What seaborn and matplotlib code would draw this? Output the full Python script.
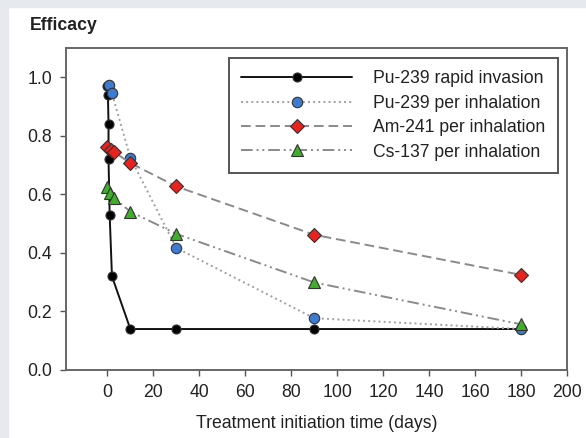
import matplotlib
matplotlib.use("Agg")
import matplotlib.pyplot as plt
import seaborn as sns
import pandas as pd
from matplotlib.patches import Rectangle

sns.set_style("ticks")
plt.rcParams['font.family'] = ['Liberation Sans', 'DejaVu Sans']

# data
pu_rapid_days = [0, 0.25, 0.5, 0.5, 1, 2, 10, 30, 90, 180]
pu_rapid_eff = [0.97, 0.94, 0.84, 0.72, 0.53, 0.32, 0.14, 0.14, 0.14, 0.14]
pu_inh_days = [0.5, 2, 10, 30, 90, 180]
pu_inh_eff = [0.975, 0.945, 0.725, 0.417, 0.177, 0.14]
am_inh_days = [0, 1.5, 3, 10, 30, 90, 180]
am_inh_eff = [0.762, 0.752, 0.744, 0.707, 0.627, 0.462, 0.325]
cs_inh_days = [0, 1, 3, 10, 30, 90, 180]
cs_inh_eff = [0.625, 0.604, 0.587, 0.541, 0.465, 0.299, 0.156]
labels = ["Pu-239 rapid invasion", "Pu-239 per inhalation",
          "Am-241 per inhalation", "Cs-137 per inhalation"]
x_ticks = [0, 20, 40, 60, 80, 100, 120, 140, 160, 180, 200]
y_ticks = [0.0, 0.2, 0.4, 0.6, 0.8, 1.0]

FS = 12.7

fig = plt.figure(figsize=(5.86, 4.38), dpi=100)
fig.patch.set_facecolor("white")
grey = "#e6eaee"
fig.patches.append(Rectangle((0, 0), 8 / 586, 1, transform=fig.transFigure, color=grey, zorder=0))
fig.patches.append(Rectangle((0, 1 - 7 / 438), 1, 7 / 438, transform=fig.transFigure, color=grey, zorder=0))

ax = fig.add_axes([66 / 586, (438 - 370) / 438, (567 - 66) / 586, (370 - 48) / 438])

series = [
    (pu_rapid_days, pu_rapid_eff, "#111111", "-", "o", "black", 6.5),
    (pu_inh_days, pu_inh_eff, "#a0a0a0", ":", "o", "#3d7bd0", 7.5),
    (am_inh_days, am_inh_eff, "#8a8a8a", (0, (5, 2.5)), "D", "#e8231f", 7.5),
    (cs_inh_days, cs_inh_eff, "#8a8a8a", (0, (6, 2, 1, 2, 1, 2)), "^", "#3fae2a", 8.5),
]
for (dx, dy, lc, ls, mk, mfc, ms), lab in zip(series, labels):
    df = pd.DataFrame({"days": dx, "eff": dy})
    sns.lineplot(data=df, x="days", y="eff", ax=ax, estimator=None, sort=False,
                 color=lc, linestyle=ls, linewidth=1.4, marker=mk, markersize=ms,
                 markerfacecolor=mfc, markeredgecolor="#333333", markeredgewidth=0.8,
                 label=lab)

ax.set_xlim(-18, 200)
ax.set_ylim(0, 1.1)
ax.set_xticks(x_ticks)
ax.set_yticks(y_ticks)
ax.set_yticklabels([f"{v:.1f}" for v in y_ticks])
ax.tick_params(axis="both", direction="out", length=4, width=1, color="#555555",
               labelsize=FS, labelcolor="#222222", pad=6)
ax.set_xlabel("Treatment initiation time (days)", fontsize=FS, color="#222222", labelpad=10)
ax.set_ylabel("")
for s in ax.spines.values():
    s.set_visible(True)
    s.set_color("#666666")
    s.set_linewidth(1.4)

fig.text(30 / 586, 1 - 25 / 438, "Efficacy", fontsize=FS, color="#222222",
         va="center", ha="left", fontweight="semibold")

leg = ax.legend(loc="upper right", bbox_to_anchor=(0.982, 0.969), frameon=True, fancybox=False,
                edgecolor="#555555", framealpha=1, handlelength=6.3, handletextpad=1.2,
                fontsize=FS, borderpad=0.7, labelspacing=0.42, numpoints=1,
                borderaxespad=0)
leg.get_frame().set_linewidth(1.4)
for t in leg.get_texts():
    t.set_color("#222222")

fig.savefig("out.png", dpi=100)
